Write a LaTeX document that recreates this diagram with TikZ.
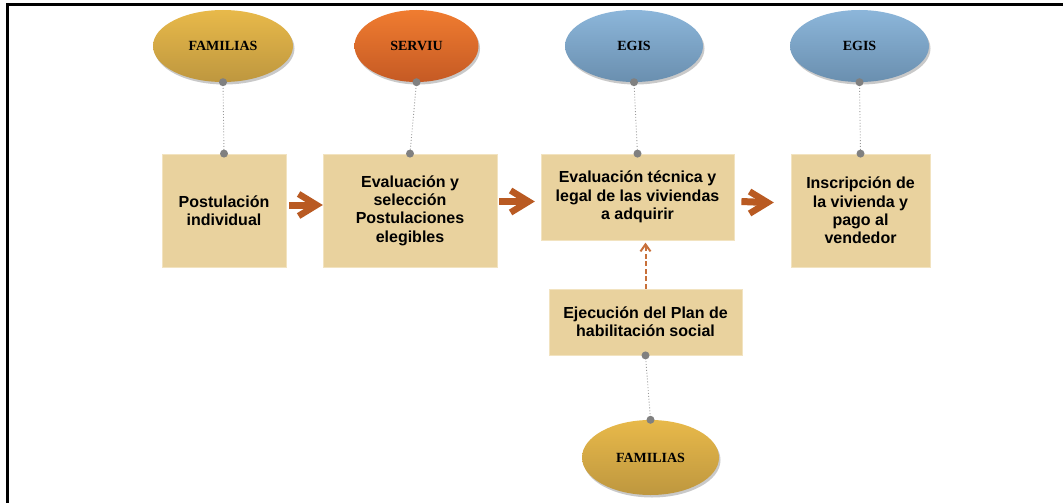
\documentclass[tikz,border=0pt]{standalone}
\usepackage{fontspec}
\setmainfont{Liberation Sans}
\newfontfamily\ellfont{Liberation Serif}
\usetikzlibrary{shapes.geometric,arrows.meta,shadows,calc}
\definecolor{boxfill}{HTML}{E9D29E}
\definecolor{boxedge}{HTML}{F2E3C0}
\definecolor{arrowc}{HTML}{B95A22}
\definecolor{dashc}{HTML}{C8703A}
\definecolor{dotgray}{HTML}{808080}
\definecolor{goldtop}{HTML}{E8B94A}
\definecolor{goldbot}{HTML}{BE973F}
\definecolor{orgtop}{HTML}{F07C30}
\definecolor{orgbot}{HTML}{C55A24}
\definecolor{bluetop}{HTML}{8CB6DA}
\definecolor{bluebot}{HTML}{6A8FAF}
\tikzset{
  stepbox/.style={rectangle, fill=boxfill, draw=boxedge, line width=0.8pt, inner sep=2pt, align=center,
    font=\bfseries\fontsize{16}{18.3}\selectfont, text=black},
  actor/.style={ellipse, inner sep=0pt, font=\ellfont\bfseries\fontsize{14}{14}\selectfont, text=black,
    drop shadow={shadow xshift=1.5pt, shadow yshift=-2.5pt, opacity=0.35, fill=black!60}},
  gold/.style={actor, top color=goldtop, bottom color=goldbot},
  orangeell/.style={actor, top color=orgtop, bottom color=orgbot},
  blueell/.style={actor, top color=bluetop, bottom color=bluebot},
  link/.style={draw=black!40, line width=0.9pt, dotted},
  flowshaft/.style={draw=arrowc, line width=7pt},
  flowhead/.style={draw=arrowc, line width=6.5pt, line join=miter},
  dflow/.style={draw=dashc, line width=2pt, dash pattern=on 5pt off 2.5pt},
  dhead/.style={draw=dashc, line width=2pt, line join=miter},
  dotc/.style={fill=dotgray}
}
\begin{document}
\begin{tikzpicture}[x=1pt,y=-1pt]
\useasboundingbox (0,0) rectangle (1063,503);
\fill[white] (0,0) rectangle (1063,503);
\draw[line width=3pt] (1063,5) -- (7,5) -- (7,503);

% actors
\node[gold, minimum width=140pt, minimum height=72pt] (f1) at (223,46) {FAMILIAS};
\node[orangeell, minimum width=124pt, minimum height=72pt] (sv) at (416.5,46) {SERVIU};
\node[blueell, minimum width=138pt, minimum height=72pt] (e1) at (634,46) {EGIS};
\node[blueell, minimum width=139pt, minimum height=72pt] (e2) at (859.5,46) {EGIS};
\node[gold, minimum width=137pt, minimum height=75pt] (f2) at (650.5,457.5) {FAMILIAS};

% steps
\node[stepbox, minimum width=124pt, minimum height=113pt] (b1) at (224,210.5) {Postulación\\individual};
\node[stepbox, minimum width=174pt, minimum height=113pt] (b2) at (410,210.5) {Evaluación y\\selección\\Postulaciones\\elegibles};
\node[stepbox, minimum width=193pt, minimum height=86pt] (b3) at (637.5,197) {Evaluación técnica y\\legal de las viviendas\\a adquirir};
\node[stepbox, minimum width=139pt, minimum height=113pt] (b4) at (860.5,210.5) {Inscripción de\\la vivienda y\\pago al\\vendedor};
\node[stepbox, minimum width=193pt, minimum height=66pt] (b5) at (645.5,322) {Ejecución del Plan de\\habilitación social};

% links
\foreach \a/\b in {f1/b1, sv/b2, e1/b3, e2/b4} {
  \draw[link] (\a.south) -- (\b.north);
  \fill[dotc] (\a.south) circle (4pt);
  \fill[dotc] (\b.north) circle (4pt);
}
\draw[link] (b5.south) -- (f2.north);
\fill[dotc] (b5.south) circle (4pt);
\fill[dotc] (f2.north) circle (4pt);

% flow arrows (start / tip coordinates tied to the boxes)
\coordinate (a1s) at ($(b1.east)+(3,-5.5)$);
\coordinate (a1t) at ($(b2.west)+(0,-5.5)$);
\coordinate (a2s) at ($(b2.east)+(2,-9)$);
\coordinate (a2t) at ($(b3.west)+(-6,4.5)$);
\coordinate (a3s) at ($(b3.east)+(7,4.5)$);
\coordinate (a3t) at ($(b4.west)+(-17,-8)$);
\foreach \s/\t in {a1s/a1t, a2s/a2t, a3s/a3t} {
  \draw[flowshaft] (\s) -- ($(\t)+(-8,0)$);
  \draw[flowhead] ($(\t)+(-24,-11)$) -- ($(\t)+(-6,0)$) -- ($(\t)+(-24,11)$);
}

% dashed arrow
\coordinate (dt) at (b3.south -| b5.north);
\draw[dflow] (b5.north) -- ($(dt)+(0,5)$);
\draw[dhead] ($(dt)+(-5,11)$) -- ($(dt)+(0,4)$) -- ($(dt)+(5,11)$);
\end{tikzpicture}
\end{document}
